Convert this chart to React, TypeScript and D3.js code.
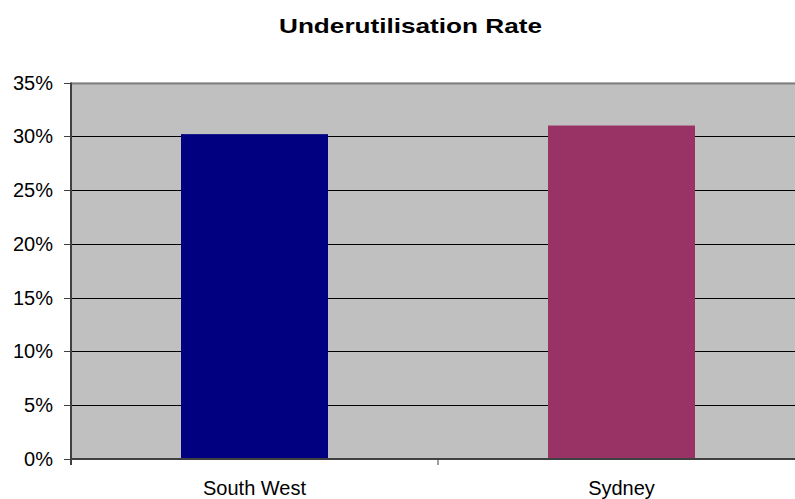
import React from "react";
import * as d3 from "d3";

const categories = ["South West", "Sydney"];
const values = [0.302, 0.31];
const colors = ["#000080", "#993366"];
const yTicks = [0, 0.05, 0.1, 0.15, 0.2, 0.25, 0.3, 0.35];
const title = "Underutilisation Rate";

export default function App() {
  const W = 795, H = 499;
  const left = 71, right = 805, top = 82.5, bottom = 459;
  const x = d3.scaleBand<string>().domain(categories).range([left, right]).paddingInner(0).paddingOuter(0);
  const y = d3.scaleLinear().domain([0, 0.35]).range([bottom, top]);
  const barW = 147;
  const fmt = d3.format(".0%");
  const font = "Arial, 'Liberation Sans', sans-serif";
  return (
    <svg width={W} height={H} style={{ position: "absolute", left: 0, top: 0, background: "#fff" }} fontFamily={font}>
      <text x={410.5} y={33} textAnchor="middle" fontSize={21} fontWeight="bold" textLength={263} lengthAdjust="spacingAndGlyphs">{title}</text>
      <rect x={left} y={top} width={right - left} height={bottom - top} fill="#C0C0C0" />
      {yTicks.map((t, i) => (
        <line key={"g" + i} x1={left} x2={right} y1={Math.round(y(t)) + 0.5} y2={Math.round(y(t)) + 0.5}
          stroke={t === 0.35 ? "#808080" : "#000"} strokeWidth={t === 0.35 ? 2 : 1} />
      ))}
      {categories.map((c, i) => {
        const cx = (x(c) as number) + x.bandwidth() / 2;
        return (
          <rect key={c} x={cx - barW / 2} y={y(values[i])} width={barW} height={bottom - y(values[i])} fill={colors[i]} />
        );
      })}
      <line x1={left} x2={left} y1={top} y2={bottom + 6} stroke="#404040" strokeWidth={2} />
      <line x1={left - 1} x2={right} y1={bottom} y2={bottom} stroke="#404040" strokeWidth={2} />
      {yTicks.map((t, i) => (
        <g key={"t" + i}>
          <line x1={left - 7} x2={left} y1={Math.round(y(t)) + 0.5} y2={Math.round(y(t)) + 0.5} stroke="#404040" strokeWidth={1} />
          <text x={53} y={y(t) + 7} textAnchor="end" fontSize={20}>{fmt(t)}</text>
        </g>
      ))}
      {categories.slice(1).map((c) => (
        <line key={"xt" + c} x1={(x(c) as number)} x2={(x(c) as number)} y1={bottom} y2={bottom + 6} stroke="#404040" strokeWidth={1} />
      ))}
      {categories.map((c) => (
        <text key={"xl" + c} x={(x(c) as number) + x.bandwidth() / 2} y={494.5} textAnchor="middle" fontSize={20}>{c}</text>
      ))}
    </svg>
  );
}
